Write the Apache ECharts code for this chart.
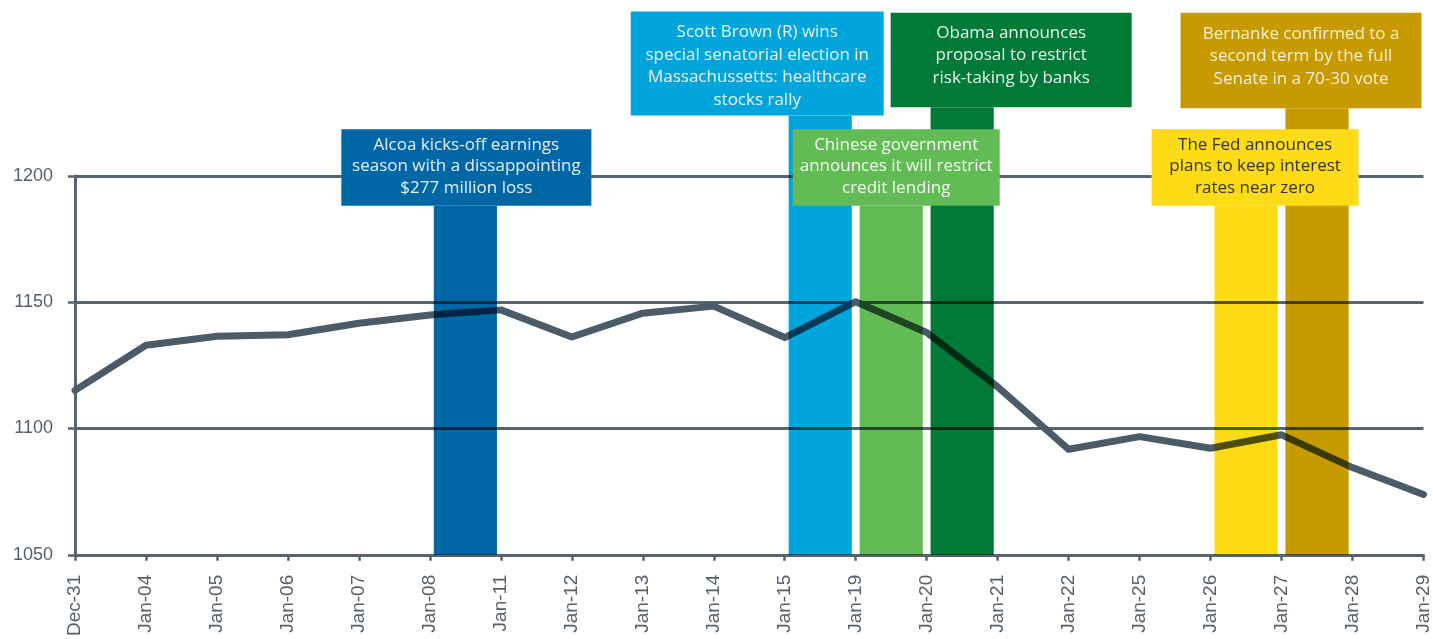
<!DOCTYPE html>
<html>
<head>
<meta charset="utf-8">
<script src="https://cdn.jsdelivr.net/npm/echarts@6/dist/echarts.min.js"></script>
<style>
html,body{margin:0;padding:0;background:#fff;}
#chart{width:1433px;height:639px;}
</style>
</head>
<body>
<div id="chart"></div>
<script>
// ---- data ----
const dates = ['Dec-31','Jan-04','Jan-05','Jan-06','Jan-07','Jan-08','Jan-11','Jan-12','Jan-13','Jan-14',
               'Jan-15','Jan-19','Jan-20','Jan-21','Jan-22','Jan-25','Jan-26','Jan-27','Jan-28','Jan-29'];
const indexValues = [1115.10,1132.99,1136.52,1137.14,1141.69,1144.98,1146.98,1136.22,1145.68,1148.46,
                     1136.03,1150.23,1138.04,1116.48,1091.76,1096.78,1092.17,1097.50,1084.53,1073.87];
const yTicks = [1050, 1100, 1150, 1200];
// events: interval start date, text, top level of the bar (axis value)
const eventStart = ['Jan-08','Jan-15','Jan-19','Jan-20','Jan-26','Jan-27'];
const eventText = [
  'Alcoa kicks-off earnings\nseason with a dissappointing\n$277 million loss',
  'Scott Brown (R) wins\nspecial senatorial election in\nMassachussetts: healthcare\nstocks rally',
  'Chinese government\nannounces it will restrict\ncredit lending',
  'Obama announces\nproposal to restrict\nrisk-taking by banks',
  'The Fed announces\nplans to keep interest\nrates near zero',
  'Bernanke confirmed to a\nsecond term by the full\nSenate in a 70-30 vote'
];
const eventLevel = [1188.2, 1224.0, 1188.2, 1227.2, 1188.2, 1226.8];

// ---- styles (kept apart from data) ----
const eventColor = ['#0067a7','#00a5dc','#62bb55','#007a36','#fedb17','#c79a00'];
const eventTextColor = ['#e8f0f7','#e8f4fa','#f4faf2','#e6f2ea','#333333','#f6efd8'];
const eventBoxWidth = [250, 253, 207, 241, 207, 241];
const eventBoxOffset = [1, -63, 5, 49, 9, -16];
const eventBoxPad = [[5,0,7,0],[10,0,4,0],[5,0,7,0],[9,0,18,0],[5,0,7,0],[10,0,18,0]];
const eventLineHeight = [21.5, 22.5, 21.5, 22.5, 21.5, 22.5];

const intervals = dates.slice(0, -1);
const barData = intervals.map(d => {
  const i = eventStart.indexOf(d);
  if (i < 0) return null;
  return { value: eventLevel[i], itemStyle: { color: eventColor[i] } };
});
const labelData = intervals.map(d => {
  const i = eventStart.indexOf(d);
  if (i < 0) return null;
  return {
    value: eventLevel[i],
    label: {
      show: true,
      formatter: eventText[i],
      backgroundColor: eventColor[i],
      color: eventTextColor[i],
      width: eventBoxWidth[i],
      padding: eventBoxPad[i],
      lineHeight: eventLineHeight[i],
      offset: [eventBoxOffset[i], 0]
    }
  };
});

const axisCol = '#56646f';
const chart = echarts.init(document.getElementById('chart'), null, {renderer: 'canvas'});
chart.setOption({
  animation: false,
  grid: { left: 75, right: 7, top: 176, bottom: 82, containLabel: false },
  xAxis: [{
    type: 'category', data: dates, boundaryGap: false,
    axisLine: { lineStyle: { color: axisCol, width: 3 } },
    axisTick: { show: true, length: 6, lineStyle: { color: axisCol, width: 2.5 } },
    axisLabel: { interval: 0, rotate: 90, margin: 20, fontSize: 19, color: '#56606a',
                 fontFamily: 'Liberation Sans, Arial, sans-serif' },
    splitLine: { show: false }
  }, {
    type: 'category', data: intervals, boundaryGap: true, show: false
  }],
  yAxis: {
    type: 'value', min: 1050, max: 1200, interval: 50, startValue: 1050,
    axisLine: { show: true, lineStyle: { color: axisCol, width: 3 } },
    axisTick: { show: true, length: 7, lineStyle: { color: axisCol, width: 2.5 } },
    axisLabel: { margin: 22, fontSize: 18, color: '#56606a',
                 fontFamily: 'Liberation Sans, Arial, sans-serif',
                 formatter: v => yTicks.includes(v) ? String(v) : '' },
    splitLine: { show: true, lineStyle: { color: axisCol, width: 3 } }
  },
  series: [{
    type: 'line', data: indexValues, xAxisIndex: 0, z: 2,
    symbol: 'none',
    lineStyle: { color: '#4b5c68', width: 7, cap: 'round', join: 'round' }
  }, {
    type: 'bar', data: barData, xAxisIndex: 1, z: 3,
    barWidth: '89%', barGap: '-100%', clip: false, blendMode: 'multiply'
  }, {
    type: 'bar', data: labelData, xAxisIndex: 1, z: 4,
    barWidth: '89%', barGap: '-100%', clip: false,
    itemStyle: { color: 'rgba(0,0,0,0)' },
    label: { show: true, position: 'top', distance: 0, align: 'center',
             fontSize: 17, fontFamily: 'Open Sans, sans-serif' }
  }]
});
</script>
</body>
</html>
